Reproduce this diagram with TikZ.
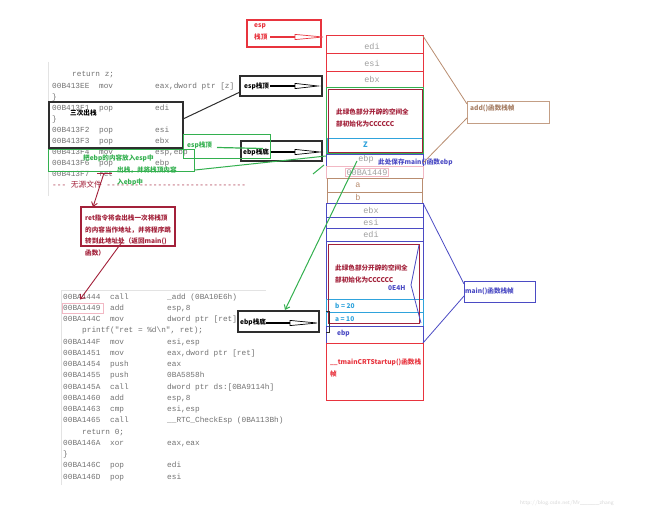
\documentclass[tikz,border=0pt]{standalone}
\usepackage{fontspec}
\setmainfont{Liberation Sans}
\setmonofont{Liberation Mono}
\newfontfamily\cjk{Noto Sans CJK SC}
\usetikzlibrary{arrows.meta,calc}
\definecolor{cred}{HTML}{E8343E}
\definecolor{dred}{HTML}{A3213A}
\definecolor{cgreen}{HTML}{33B04F}
\definecolor{ccyan}{HTML}{2FA3DC}
\definecolor{cpurple}{HTML}{4B4BC4}
\definecolor{cbrown}{HTML}{B98D70}
\definecolor{cpink}{HTML}{F2B8C4}
\definecolor{codegray}{HTML}{727272}
\definecolor{dk}{HTML}{2E2E2E}
\newcommand\fatarrow[4]{%
  \draw[#1,line width=2.6pt] (#2) -- (#3);
  \draw[#1,line width=0.7pt,fill=white] ($(#3)+(0,-2.6)$) -- (#4) -- ($(#3)+(0,2.6)$) -- cycle;}
\begin{document}
\begin{tikzpicture}[x=1pt,y=-1pt,
  cell/.style={draw,line width=1pt,inner sep=0,outer sep=0,anchor=north west,minimum width=97pt},
  lab/.style={font=\cjk\bfseries\fontsize{6.6}{12}\selectfont,inner sep=0,anchor=west,align=left},
  celltxt/.style={font=\ttfamily\fontsize{8.5}{10}\selectfont,text=gray!75,inner sep=0},
  code/.style={font=\ttfamily\fontsize{7.75}{11.1}\selectfont,text=codegray,inner sep=0,anchor=north west},
  tagbox/.style={draw=dk,line width=1.2pt,inner sep=0,outer sep=0,anchor=north west},
  ar/.style={-{Straight Barb[length=4pt,width=6pt]},line width=0.9pt}]
\fill[white] (0,0) rectangle (650,511);
\useasboundingbox (0,0) rectangle (650,511);

% screenshot borders
\draw[gray!22,line width=0.8pt] (48,62) -- (48,196);
\draw[gray!22,line width=0.8pt] (61,485) -- (61,290) -- (266,290);

% top code
\node[code] (codetop) at (52,69) {\begin{tabular}{@{}p{47pt}@{}p{56pt}@{}l@{}}
\multicolumn{3}{@{}l@{}}{\hspace*{20pt}return z;}\\
00B413EE & mov & eax,dword ptr [z]\\
\multicolumn{3}{@{}l@{}}{\}}\\
00B413F1 & pop & edi\\
\multicolumn{3}{@{}l@{}}{\}}\\
00B413F2 & pop & esi\\
00B413F3 & pop & ebx\\
00B413F4 & mov & esp,ebp\\
00B413F6 & pop & ebp\\
00B413F7 & ret & \\
\multicolumn{3}{@{}l@{}}{\textcolor{dred}{---  {\cjk 无源文件} ------------------------------}}
\end{tabular}};

% bottom code
\node[code,font=\ttfamily\fontsize{7.75}{11.25}\selectfont] (codebot) at (63,291) {\begin{tabular}{@{}p{47pt}@{}p{57pt}@{}l@{}}
00BA1444 & call & \_add (0BA10E6h)\\
00BA1449 & add & esp,8\\
00BA144C & mov & dword ptr [ret],eax\\
\multicolumn{3}{@{}l@{}}{\hspace*{19pt}printf("ret = \%d\textbackslash n", ret);}\\
00BA144F & mov & esi,esp\\
00BA1451 & mov & eax,dword ptr [ret]\\
00BA1454 & push & eax\\
00BA1455 & push & 0BA5858h\\
00BA145A & call & dword ptr ds:[0BA9114h]\\
00BA1460 & add & esp,8\\
00BA1463 & cmp & esi,esp\\
00BA1465 & call & \_\_RTC\_CheckEsp (0BA113Bh)\\
\multicolumn{3}{@{}l@{}}{\hspace*{19pt}return 0;}\\
00BA146A & xor & eax,eax\\
\multicolumn{3}{@{}l@{}}{\}}\\
00BA146C & pop & edi\\
00BA146D & pop & esi
\end{tabular}};
\node[draw=cpink,line width=0.8pt,minimum width=41pt,minimum height=10pt,anchor=north west,inner sep=0] (retaddr) at (62,302.5) {};

% ---------- stack: add() frame ----------
\node[cell,draw=cred,minimum height=18pt] (sedi1) at (326,36) {};
\node[cell,draw=cred,minimum height=17pt] (sesi1) at (326,54) {};
\node[cell,draw=cred,minimum height=16pt] (sebx1) at (326,71) {};
\node[cell,draw=cgreen,minimum height=66pt] (sgreen) at (326,87) {};
\node[cell,draw=ccyan,minimum width=95pt,minimum height=14pt] (sz) at (327,138) {};
\node[cell,draw=dred,minimum width=94pt,minimum height=63pt] (sin1) at (328,89) {};
\node[cell,draw=cpurple,minimum height=12pt] (sebp1) at (326,154) {};
\node[cell,draw=cpink,minimum height=12pt] (sret) at (326,166) {};
\node[cell,draw=cbrown,minimum width=95pt,minimum height=14pt] (sa) at (327,178) {};
\node[cell,draw=cbrown,minimum width=95pt,minimum height=11pt] (sb) at (327,192) {};
% ---------- stack: main() frame ----------
\node[cell,draw=cpurple,minimum height=14pt] (sebx2) at (326,203) {};
\node[cell,draw=cpurple,minimum height=11pt] (sesi2) at (326,217) {};
\node[cell,draw=cpurple,minimum height=13pt] (sedi2) at (326,228) {};
\node[cell,draw=cpurple,minimum height=85pt] (sbig2) at (326,241) {};
\node[cell,draw=ccyan,minimum height=13pt] (sb20) at (326,299) {};
\node[cell,draw=ccyan,minimum height=14pt] (sa10) at (326,312) {};
\node[cell,draw=dred,minimum width=91pt,minimum height=79pt] (sin2) at (328,244) {};
\node[cell,draw=cpurple,minimum height=17pt] (sebp2) at (326,326) {};
\node[cell,draw=cred,minimum height=57pt] (stmain) at (326,343) {};
\draw[cpurple,line width=0.8pt] ($(sbig2.north east)+(-4,4)$) -- ($(sbig2.north east)+(-12,44)$) -- ($(sbig2.south east)+(-2,-3)$);

% cell texts
\node[celltxt] (tedi1) at (372,46) {edi};
\node[celltxt] (tesi1) at (372,63) {esi};
\node[celltxt] (tebx1) at (372,79) {ebx};
\node[lab,text=dred] (tin1) at (336,117.5) {此绿色部分开辟的空间全\\部初始化为CCCCCC};
\node[lab,text=ccyan,font=\cjk\bfseries\fontsize{7.5}{10}\selectfont] (tz) at (363,145) {Z};
\node[celltxt] (tebp1) at (366,159.5) {ebp};
\node[lab,text=cpurple] (tsave) at (378,162) {此处保存main()函数ebp};
\node[celltxt,draw=cpink,line width=0.8pt,inner sep=0.8pt] (tret) at (367,172.5) {00BA1449};
\node[celltxt,text=cbrown] (ta) at (358,185) {a};
\node[celltxt,text=cbrown] (tb) at (358,197) {b};
\node[celltxt] (tebx2) at (371,210) {ebx};
\node[celltxt] (tesi2) at (371,222) {esi};
\node[celltxt] (tedi2) at (371,234) {edi};
\node[lab,text=dred] (tin2) at (335,273.5) {此绿色部分开辟的空间全\\部初始化为CCCCCC};
\node[lab,text=cpurple] (t0e4h) at (388,288) {0E4H};
\node[lab,text=ccyan] (tb20) at (335,306) {b = 20};
\node[lab,text=ccyan] (ta10) at (335,319) {a = 10};
\node[lab,text=cpurple] (tebp2) at (337,334) {ebp};
\node[lab,text=cred] (ttmain) at (330,368) {\_\_tmainCRTStartup()函数栈\\帧};

% ---------- frame labels ----------
\node[draw=cbrown!85,line width=1pt,inner sep=0,anchor=north west,minimum width=82pt,minimum height=22pt] (addbox) at (467,101) {};
\node[lab,text=cbrown!90!black] (taddbox) at (470,108) {add()函数栈帧};
\draw[cbrown,line width=0.8pt] (sedi1.north east) -- ($(addbox.north west)+(0,3)$);
\draw[cbrown,line width=0.8pt] ($(addbox.north west)+(0,17)$) -- ($(sebp1.east)+(0,3)$);
\node[draw=cpurple,line width=1pt,inner sep=0,anchor=north west,minimum width=71pt,minimum height=21pt] (mainbox) at (464,281) {};
\node[lab,text=cpurple] (tmainbox) at (465,291) {main()函数栈帧};
\draw[cpurple,line width=0.8pt] (sebx2.north east) -- ($(mainbox.north west)+(0,3)$);
\draw[cpurple,line width=0.8pt] ($(mainbox.north west)+(0,15)$) -- (sebp2.south east);

% ---------- esp top (red) ----------
\node[tagbox,draw=cred,minimum width=74pt,minimum height=27pt] (espred) at (247,20) {};
\node[lab,text=cred] (tespred) at (254,32) {esp\\栈顶};
\coordinate (ra0) at ($(espred.west)+(23,3.5)$);
\coordinate (ra1) at ($(espred.west)+(48,3.5)$);
\coordinate (ra2) at ($(sedi1.north west)+(-3,1)$);
\fatarrow{cred}{ra0}{ra1}{ra2}

% ---------- black boxes ----------
\node[tagbox,minimum width=134pt,minimum height=46pt] (three) at (49,102) {};
\node[lab,text=black] (tthree) at (70,113) {三次出栈};
\node[tagbox,minimum width=82pt,minimum height=20pt] (espblk) at (240,76) {};
\node[lab,text=black] (tespblk) at (244,86.5) {esp栈顶};
\fatarrow{black}{$(espblk.west)+(30,0)$}{$(espblk.west)+(55,0)$}{$(espblk.east)+(-4,0)$}
\draw[dk,line width=1pt] ($(three.north east)+(0,17)$) -- ($(espblk.south west)+(0,-4)$);

\node[tagbox,minimum width=81pt,minimum height=20pt] (ebpblk1) at (241,141) {};
\node[lab,text=black] (tebpblk1) at (243,152) {ebp栈底};
\fatarrow{black}{$(ebpblk1.west)+(29,1)$}{$(ebpblk1.west)+(54,1)$}{$(ebpblk1.east)+(-2,1)$}

\node[tagbox,fill=white,minimum width=81pt,minimum height=21pt] (ebpblk2) at (238,311) {};
\node[lab,text=black] (tebpblk2) at (240,322.5) {ebp栈底};
\fatarrow{black}{$(ebpblk2.west)+(28,1.5)$}{$(ebpblk2.west)+(52,1.5)$}{$(ebpblk2.east)+(-2,1.5)$}
\draw[dk,line width=1pt] (326,311) -- (329,311) -- (329,332) -- (326,332);

% ---------- green annotations ----------
\node[draw=cgreen,line width=1pt,inner sep=0,anchor=north west,minimum width=87pt,minimum height=24pt] (greenA) at (183,134) {};
\node[lab,text=cgreen] (tgreenA) at (187,145) {esp栈顶};
\draw[cgreen,line width=1.2pt] ($(greenA.west)+(34,1)$) -- ($(greenA.west)+(80,2)$);
\node[draw=cgreen,line width=1pt,inner sep=0,anchor=north west,minimum width=146pt,minimum height=22pt] (greenB) at (48,149) {};
\node[lab,text=cgreen] (tgreenB) at (83,158) {把ebp的内容放入esp中};
\node[lab,text=cgreen] (tgreenC) at (117,176.5) {出栈，并将栈顶内容\\入ebp中};
\draw[cgreen,line width=1pt] ($(greenB.south east)+(0,-2)$) -- ($(sebp1.west)+(0,-4)$);
\coordinate (g1) at (313,174);
\draw[cgreen,line width=1pt] (g1) -- ($(sebp1.south west)+(-2,-1)$);
\draw[cgreen,ar,line width=1pt] ($(sebp1.west)+(31,1)$) -- ($(ebpblk2.north)+(6.5,-1)$);

% ---------- ret annotation ----------
\node[tagbox,draw=dred,minimum width=94pt,minimum height=39pt] (retbox) at (81,207) {};
\node[lab,text=dred,font=\cjk\bfseries\fontsize{6.6}{11.7}\selectfont] (tretbox) at (85,235.5) {ret指令将会出栈一次将栈顶\\的内容当作地址，并将程序跳\\转到此地址处（返回main()\\函数）};
\coordinate (rt0) at (104,173);
\coordinate (rtl) at (97,173);
\coordinate (rtr) at (112,173);
\draw[dred,line width=0.9pt] (rtl) -- (rtr);
\draw[dred,ar] (rt0) -- ($(retbox.north west)+(12,0)$);
\draw[dred,ar] ($(retbox.south west)+(41,-4)$) -- ($(retaddr.north west)+(18,-3)$);

% watermark
\node[font=\sffamily\fontsize{5.5}{6}\selectfont,text=gray!30,inner sep=0,anchor=west] (wm) at (520,503) {http://blog.csdn.net/Mr\_\_\_\_\_zhang};
\end{tikzpicture}
\end{document}
